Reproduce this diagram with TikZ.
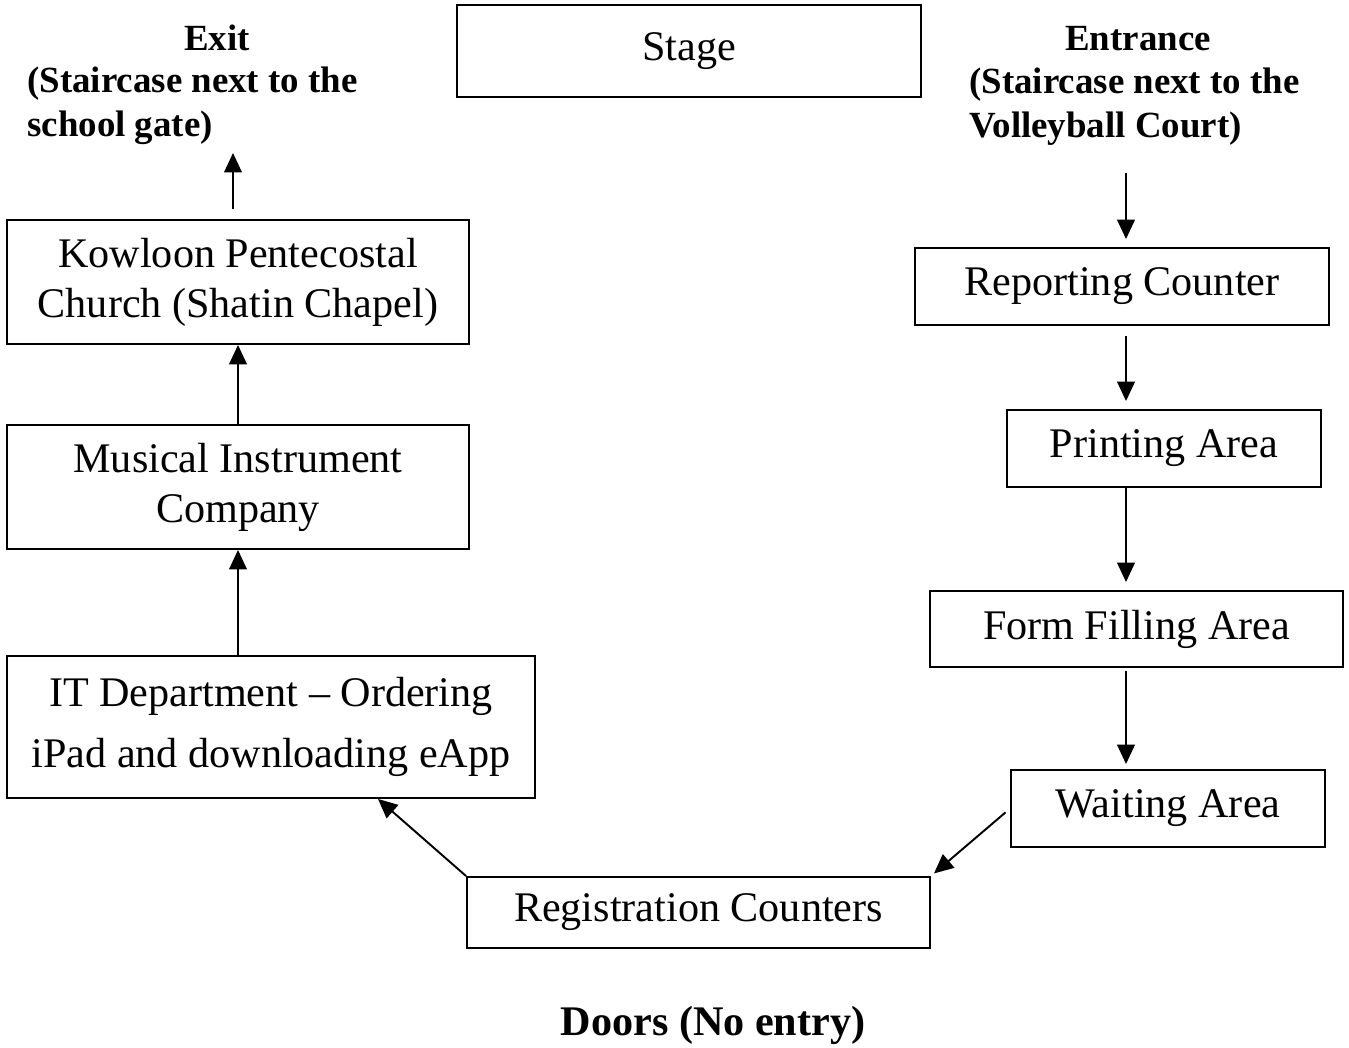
\documentclass[tikz,border=0pt]{standalone}
\usepackage{fontspec}
\setmainfont{Liberation Serif}
\usetikzlibrary{arrows.meta,calc}
\tikzset{
  stand/.style={draw, line width=1.1pt, inner sep=0pt, align=center, font=\fontsize{24}{28.5}\selectfont},
  heading/.style={inner sep=0pt, font=\bfseries\fontsize{21}{25}\selectfont},
  flow/.style={-{Triangle[length=11pt,width=10pt]}, line width=1.1pt}
}
\begin{document}
\begin{tikzpicture}[x=0.02cm, y=-0.02cm]
\useasboundingbox (0,0) rectangle (1349,1048);
% headings
\node[heading] (exitlabel) at (217,38) {Exit};
\node[heading, anchor=west] (exitline1) at (27,84) {(Staircase next to the};
\node[heading, anchor=west] (exitline2) at (27,128) {school gate)};
\node[heading] (entrlabel) at (1138,39) {Entrance};
\node[heading, anchor=west] (entrline1) at (969,85) {(Staircase next to the};
\node[heading, anchor=west] (entrline2) at (969,129) {Volleyball Court)};
\node[inner sep=0pt, font=\bfseries\fontsize{24}{28}\selectfont] (doors) at (713,1025) {Doors (No entry)};
% stands
\node[stand, minimum width=9.28cm, minimum height=1.84cm] (stage) at (689,51) {Stage};
\node[stand, minimum width=9.24cm, minimum height=2.48cm] (kowloon) at (238,282) {Kowloon Pentecostal\\Church (Shatin Chapel)};
\node[stand, minimum width=9.24cm, minimum height=2.48cm] (musical) at (238,487) {Musical Instrument\\Company};
\node[stand, minimum width=10.56cm, minimum height=2.84cm, font=\fontsize{24}{34.7}\selectfont] (itdept) at (271,727) {IT Department -- Ordering\\iPad and downloading eApp};
\node[stand, minimum width=9.26cm, minimum height=1.42cm] (registration) at (698.5,912.5) {Registration Counters};
\node[stand, minimum width=8.28cm, minimum height=1.54cm] (reporting) at (1122,286.5) {Reporting Counter};
\node[stand, minimum width=6.28cm, minimum height=1.54cm] (printing) at (1164,448.5) {Printing Area};
\node[stand, minimum width=8.26cm, minimum height=1.52cm] (formfill) at (1136.5,629) {Form Filling Area};
\node[stand, minimum width=6.28cm, minimum height=1.54cm] (waiting) at (1168,808.5) {Waiting Area};
% route
\coordinate (exitend) at (233,153);
\coordinate (entrstart) at (1126,173);
\draw[flow, shorten >=0.16cm] (entrstart) -- (entrstart |- reporting.north);
\draw[flow, shorten <=0.2cm, shorten >=0.16cm] (entrstart |- reporting.south) -- (entrstart |- printing.north);
\draw[flow, shorten >=0.16cm] (entrstart |- printing.south) -- (entrstart |- formfill.north);
\draw[flow, shorten <=0.06cm, shorten >=0.1cm] (entrstart |- formfill.south) -- (entrstart |- waiting.north);
\draw[flow, shorten <=0.12cm, shorten >=0.08cm] (waiting.west) -- (registration.north east);
\draw[flow] (registration.north west) -- ($(itdept.south)+(107,0)$);
\draw[flow] (musical.south |- itdept.north) -- (musical.south);
\draw[flow] (musical.north) -- (kowloon.south);
\draw[flow, shorten <=0.2cm] (kowloon.north -| exitend) -- (exitend);
\end{tikzpicture}
\end{document}
